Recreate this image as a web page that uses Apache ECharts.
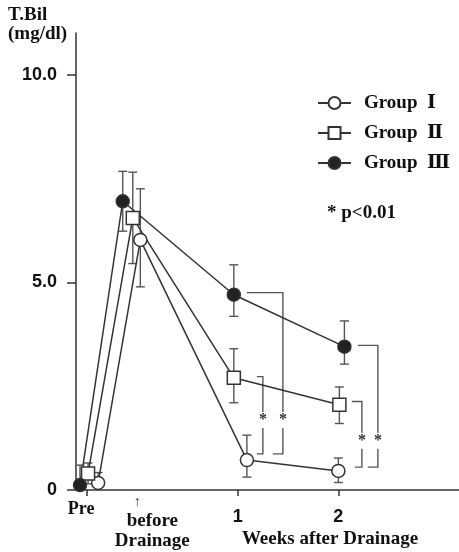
<!DOCTYPE html>
<html><head><meta charset="utf-8">
<script src="https://cdn.jsdelivr.net/npm/echarts@6/dist/echarts.min.js"></script>
<style>html,body{margin:0;padding:0;background:#fff}#c{width:459px;height:552px}</style>
</head><body><div id="c"></div>
<script>
// ---- data (x in weeks after drainage; "before Drainage" = 0, "Pre" = -0.5) ----
const groupNames = ['Group  Ⅰ', 'Group  Ⅱ', 'Group  Ⅲ'];
const xTickValues = [1, 0, -0.5, 2];
const xTickLabels = ['1', 'before Drainage', 'Pre', '2'];
const yTickValues = [0, 5, 10];
const yTickLabels = ['0', '5.0', '10.0'];

const g1x = [-0.39, 0.03, 1.09, 2.0];
const g1y = [0.17, 6.02, 0.72, 0.46];
const g1lo = [0.17, 4.89, 0.31, 0.18];
const g1hi = [0.42, 7.25, 1.32, 0.77];

const g2x = [-0.49, -0.045, 0.96, 2.01];
const g2y = [0.40, 6.55, 2.70, 2.05];
const g2lo = [0.15, 5.45, 2.10, 1.60];
const g2hi = [0.65, 7.65, 3.40, 2.48];

const g3x = [-0.57, -0.145, 0.96, 2.06];
const g3y = [0.12, 6.95, 4.70, 3.45];
const g3lo = [0.12, 6.23, 4.18, 3.03];
const g3hi = [0.60, 7.67, 5.42, 4.07];

// significance brackets: vertical x, top y, bottom y, top-left x, bottom-left x, star y
const brX = [1.448, 1.249, 2.393, 2.234];
const brTop = [4.75, 2.73, 3.48, 2.13];
const brBottom = [0.87, 0.87, 0.55, 0.55];
const brTopLeft = [1.09, 1.189, 2.194, 2.134];
const brBottomLeft = [1.348, 1.189, 2.293, 2.164];
const brStar = [1.78, 1.78, 1.28, 1.28];

const SERIF = "'Liberation Serif', 'Times New Roman', 'DejaVu Serif', serif";
const SANS = "'Liberation Sans', Arial, sans-serif";
const INK = '#333';

function errRender(params, api) {
  const x = api.value(0), lo = api.value(1), hi = api.value(2);
  const pLo = api.coord([x, lo]), pHi = api.coord([x, hi]);
  const cap = 4.5;
  const st = { stroke: '#555', lineWidth: 1.4 };
  return { type: 'group', children: [
    { type: 'line', shape: { x1: pLo[0], y1: pLo[1], x2: pHi[0], y2: pHi[1] }, style: st },
    { type: 'line', shape: { x1: pHi[0] - cap, y1: pHi[1], x2: pHi[0] + cap, y2: pHi[1] }, style: st },
    { type: 'line', shape: { x1: pLo[0] - cap, y1: pLo[1], x2: pLo[0] + cap, y2: pLo[1] }, style: st }
  ]};
}

function bracketRender(params, api) {
  const x = api.value(0), top = api.value(1), bot = api.value(2);
  const tl = api.value(3), bl = api.value(4), sy = api.value(5);
  const a = api.coord([tl, top]), b = api.coord([x, top]);
  const c = api.coord([x, bot]), d = api.coord([bl, bot]);
  const s = api.coord([x, sy]);
  return { type: 'group', children: [
    { type: 'polyline', shape: { points: [a, b, c, d] }, style: { stroke: '#555', lineWidth: 1.4, fill: null } },
    { type: 'text', x: s[0], y: s[1] + 4, style: { text: '*', fill: '#333', font: 'bold 16px ' + SERIF,
      align: 'center', verticalAlign: 'middle', backgroundColor: '#fff', padding: [0, 1, 0, 1] } }
  ]};
}

function lineSeries(name, xs, ys, symbol, fill) {
  return {
    name: name, type: 'line', z: 3,
    data: xs.map((x, i) => [x, ys[i]]),
    symbol: symbol, symbolSize: 13,
    lineStyle: { color: INK, width: 1.5 },
    itemStyle: { color: fill, borderColor: INK, borderWidth: 1.5 },
    emphasis: { disabled: true }, animation: false
  };
}
function errSeries(xs, lo, hi) {
  return {
    type: 'custom', z: 2, renderItem: errRender, animation: false, silent: true,
    data: xs.map((x, i) => [x, lo[i], hi[i]]),
    encode: { x: 0, y: [1, 2] }
  };
}

const chart = echarts.init(document.getElementById('c'), null, { renderer: 'canvas' });
chart.setOption({
  animation: false,
  backgroundColor: '#fff',
  title: [
    { text: 'T.Bil\n(mg/dl)', left: 8, top: 6, padding: 0,
      textStyle: { fontFamily: SERIF, fontWeight: 'bold', fontSize: 19, lineHeight: 19, color: '#111' } },
    { text: '* p<0.01', left: 327, top: 203, padding: 0,
      textStyle: { fontFamily: SERIF, fontWeight: 'bold', fontSize: 19, lineHeight: 20, color: '#111' } }
  ],
  legend: {
    data: groupNames, orient: 'vertical', left: 317, top: 93, padding: 0,
    itemWidth: 33, itemHeight: 15, itemGap: 10, selectedMode: false,
    textStyle: { fontFamily: SERIF, fontWeight: 'bold', fontSize: 19, lineHeight: 20, color: '#111', padding: [0, 0, 0, 8] }
  },
  grid: { left: 76, right: 0, top: 33, bottom: 62, containLabel: false, outerBoundsMode: 'none' },
  xAxis: {
    type: 'value', min: -0.61, max: 3.2,
    axisLine: { onZero: false, lineStyle: { color: INK, width: 1.5 } },
    splitLine: { show: false },
    axisTick: { customValues: [-0.5, 1, 2], length: 6, lineStyle: { color: INK, width: 1.5 } },
    axisLabel: {
      customValues: xTickValues, margin: 4, color: '#111', hideOverlap: false,
      formatter: function (v) {
        const i = xTickValues.indexOf(v);
        if (i < 0) return '';
        const t = xTickLabels[i];
        if (t === 'Pre') return '{pre|' + t + '}';
        if (t.indexOf(' ') > 0) { const p = t.split(' '); return '{arr|↑}\n{bd|' + p[0] + '}\n{bd2|' + p[1] + '}'; }
        return '{num|' + t + '}';
      },
      rich: {
        pre: { fontFamily: SERIF, fontWeight: 'bold', fontSize: 18, lineHeight: 30, padding: [0, 12, 0, 0], color: '#111' },
        arr: { fontFamily: SANS, fontSize: 14, lineHeight: 16, color: '#333' },
        bd: { fontFamily: SERIF, fontWeight: 'bold', fontSize: 19, lineHeight: 22, padding: [0, 0, 0, 30], color: '#111' },
        bd2: { fontFamily: SERIF, fontWeight: 'bold', fontSize: 19, lineHeight: 18, padding: [0, 0, 0, 30], color: '#111' },
        num: { fontFamily: SANS, fontWeight: 'bold', fontSize: 18, lineHeight: 46, color: '#111' }
      }
    },
    name: 'Weeks after Drainage', nameLocation: 'middle', nameGap: 40, nameMoveOverlap: false,
    nameTextStyle: { fontFamily: SERIF, fontWeight: 'bold', fontSize: 19, color: '#111', padding: [0, 0, 0, 125] }
  },
  yAxis: {
    type: 'value', min: 0, max: 11, interval: 5,
    axisLine: { show: true, onZero: false, lineStyle: { color: INK, width: 1.5 } },
    splitLine: { show: false },
    axisTick: { show: true, customValues: yTickValues, length: 9, lineStyle: { color: INK, width: 1.5 } },
    axisLabel: {
      customValues: yTickValues, margin: 19, color: '#111',
      fontFamily: SANS, fontWeight: 'bold', fontSize: 18,
      formatter: function (v) { const i = yTickValues.indexOf(v); return i < 0 ? '' : yTickLabels[i]; }
    }
  },
  series: [
    errSeries(g1x, g1lo, g1hi),
    errSeries(g2x, g2lo, g2hi),
    errSeries(g3x, g3lo, g3hi),
    {
      type: 'custom', z: 1, renderItem: bracketRender, animation: false, silent: true,
      data: brX.map((x, i) => [x, brTop[i], brBottom[i], brTopLeft[i], brBottomLeft[i], brStar[i]]),
      encode: { x: [0, 3, 4], y: [1, 2, 5] }
    },
    lineSeries(groupNames[0], g1x, g1y, 'circle', '#fff'),
    lineSeries(groupNames[1], g2x, g2y, 'rect', '#fff'),
    lineSeries(groupNames[2], g3x, g3y, 'circle', '#222')
  ]
});
</script>
</body></html>
